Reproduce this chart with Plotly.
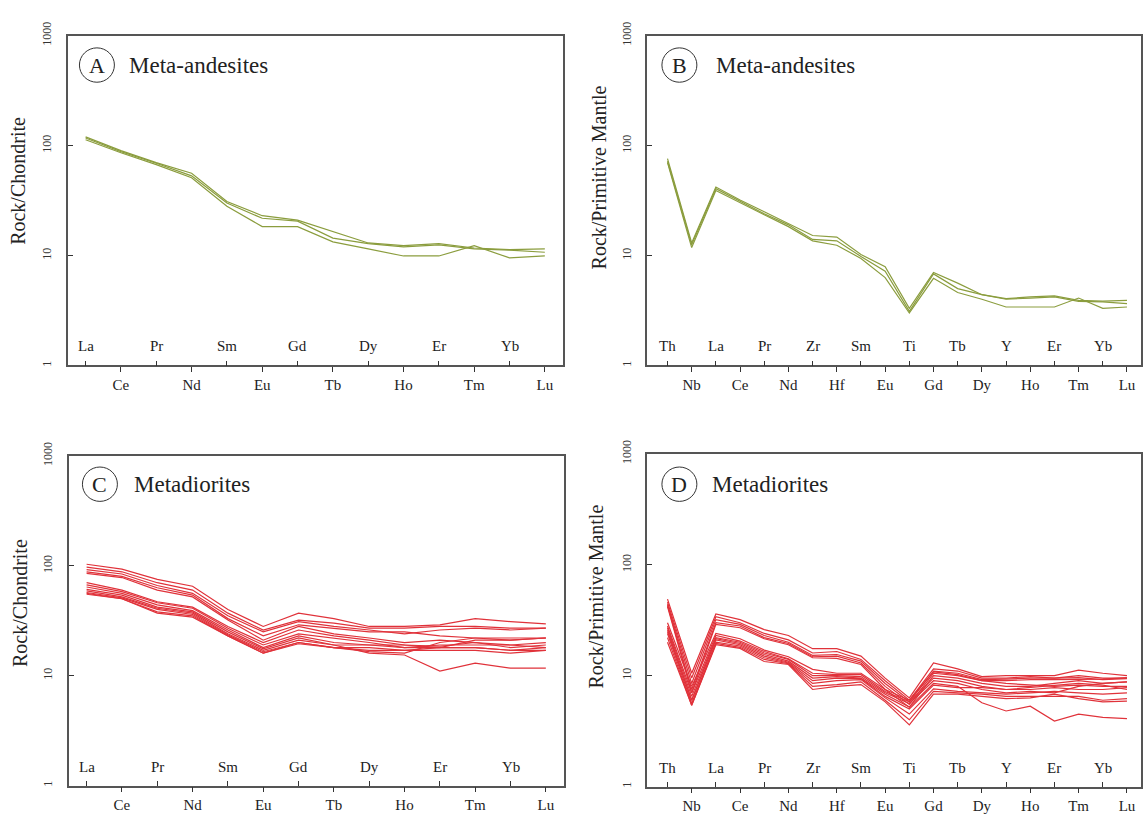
import plotly.graph_objects as go

W, H = 1143, 817

# ---------------- data ----------------
ree_labels = ["La", "Ce", "Pr", "Nd", "Sm", "Eu", "Gd", "Tb", "Dy", "Ho", "Er", "Tm", "Yb", "Lu"]
spider_labels = ["Th", "Nb", "La", "Ce", "Pr", "Nd", "Zr", "Hf", "Sm", "Eu", "Ti", "Gd", "Tb",
                 "Dy", "Y", "Ho", "Er", "Tm", "Yb", "Lu"]

# A: meta-andesites, chondrite-normalised REE
andesite_ree = [
    [120, 90, 70, 56, 31, 23.0, 21.0, 16.5, 13.0, 12.3, 12.8, 11.7, 11.3, 11.5],
    [117, 88, 69, 53, 30, 21.8, 20.5, 14.4, 12.8, 12.0, 12.5, 11.5, 11.2, 10.7],
    [113, 86, 67, 51, 28, 18.3, 18.3, 13.3, 11.5, 9.9, 9.9, 12.3, 9.5, 9.9],
]

# B: meta-andesites, primitive-mantle-normalised
andesite_pm = [
    [76, 13.0, 42, 32, 25, 19.5, 15.2, 14.7, 10.2, 7.9, 3.3, 7.0, 5.6, 4.4, 4.05, 4.2, 4.3, 3.9, 3.85, 3.9],
    [72, 12.5, 40.5, 31, 24, 19.0, 14.0, 13.6, 9.8, 7.2, 3.1, 6.8, 5.0, 4.4, 4.0, 4.1, 4.2, 3.83, 3.78, 3.65],
    [70, 11.8, 39, 30.5, 23.5, 18.3, 13.6, 12.4, 9.4, 6.3, 3.0, 6.2, 4.6, 4.0, 3.4, 3.4, 3.4, 4.1, 3.3, 3.4],
]

# C: metadiorites, chondrite-normalised REE
diorite_ree = [
    [103, 93, 75, 65, 40, 28.0, 37.0, 33.0, 28.0, 28.0, 29.0, 33.0, 31.0, 29.5],
    [97, 88, 70, 60, 37, 26.0, 32.0, 30.0, 27.0, 27.0, 28.0, 28.0, 27.0, 27.0],
    [92, 84, 66, 56, 35, 25.0, 31.0, 28.0, 26.0, 24.0, 26.0, 27.0, 26.0, 27.0],
    [88, 80, 63, 54, 33, 23.0, 29.0, 27.0, 25.0, 25.0, 23.0, 22.0, 21.0, 22.0],
    [85, 78, 60, 52, 32, 21.0, 28.0, 24.0, 22.0, 20.0, 21.0, 20.0, 18.0, 19.0],
    [70, 60, 47, 42, 28, 20.0, 26.0, 23.0, 21.0, 19.0, 18.5, 20.0, 19.0, 18.0],
    [67, 58, 46, 41, 27, 19.0, 24.0, 22.0, 20.0, 18.0, 19.0, 19.0, 19.0, 20.0],
    [64, 56, 44, 39, 26, 18.0, 23.0, 20.0, 19.0, 18.0, 18.0, 21.0, 21.0, 22.0],
    [61, 54, 42, 38, 25, 17.5, 22.0, 19.0, 16.0, 15.4, 11.0, 13.0, 11.7, 11.7],
    [59, 52, 41, 37, 24, 17.0, 21.0, 19.0, 19.0, 19.0, 18.0, 18.0, 17.0, 17.0],
    [57, 51, 40, 36, 23.5, 16.5, 20.0, 18.0, 18.0, 17.0, 18.0, 18.0, 17.0, 18.0],
    [56, 50, 38, 35, 23, 16.0, 20.0, 18.0, 17.0, 17.0, 17.0, 17.0, 16.0, 17.0],
    [55, 50, 37, 34, 23, 16.0, 19.5, 18.0, 16.5, 16.0, 20.0, 22.0, 22.0, 22.0],
]

# D: metadiorites, primitive-mantle-normalised
diorite_pm = [
    [49, 10.5, 36, 32, 26, 23.0, 17.5, 17.5, 15.0, 9.5, 6.3, 13.0, 11.5, 9.8, 10.0, 10.0, 10.0, 11.2, 10.5, 10.0],
    [46, 9.5, 34, 30, 24, 21.0, 16.0, 16.5, 14.0, 9.0, 6.0, 11.5, 11.0, 9.5, 9.5, 9.8, 9.5, 10.0, 9.5, 9.5],
    [44, 8.5, 32, 29, 23, 20.0, 15.2, 15.5, 13.5, 8.5, 5.8, 11.0, 10.5, 9.2, 9.3, 9.5, 9.5, 9.6, 9.2, 9.4],
    [43, 7.5, 30, 28, 22, 19.5, 14.8, 15.0, 13.0, 8.0, 5.5, 10.5, 10.0, 9.0, 9.0, 9.2, 9.2, 9.3, 9.3, 9.6],
    [42, 7.0, 29, 27, 21.5, 19.0, 14.5, 14.3, 12.6, 7.5, 5.2, 10.0, 9.5, 8.5, 8.0, 8.0, 8.5, 9.0, 8.5, 8.8],
    [30, 8.0, 24, 21.5, 17, 14.8, 11.4, 10.5, 10.5, 7.5, 6.0, 10.8, 10.2, 9.0, 8.5, 8.2, 8.0, 8.2, 8.0, 8.0],
    [28, 7.0, 23, 20.5, 16.5, 14.2, 10.5, 10.2, 10.2, 7.2, 5.8, 9.5, 9.0, 8.0, 7.5, 7.5, 7.8, 7.5, 7.5, 7.8],
    [27, 6.5, 22, 20, 16, 14.0, 10.0, 10.0, 9.8, 7.0, 5.6, 9.0, 8.5, 7.5, 7.0, 7.2, 7.0, 8.0, 8.5, 8.8],
    [26, 6.0, 21.5, 19.5, 15.5, 13.5, 9.5, 9.8, 9.5, 6.8, 5.2, 8.5, 8.0, 5.7, 4.8, 5.3, 3.9, 4.5, 4.2, 4.1],
    [25, 6.0, 21, 19, 15, 13.2, 9.0, 9.5, 9.4, 6.5, 5.0, 8.2, 7.8, 7.8, 7.5, 7.8, 8.2, 8.5, 8.2, 7.5],
    [24, 5.6, 20, 18.5, 14.5, 13.0, 8.5, 9.0, 9.2, 6.3, 4.5, 7.6, 7.2, 7.0, 6.8, 7.0, 7.2, 7.0, 6.8, 7.0],
    [22, 5.4, 19.5, 18, 14, 12.8, 8.0, 8.3, 8.8, 6.0, 4.0, 7.2, 7.0, 6.8, 6.5, 6.5, 6.5, 6.5, 6.0, 6.2],
    [20, 5.4, 19, 17.6, 13.4, 12.6, 7.5, 8.0, 8.3, 5.8, 3.6, 6.8, 6.8, 6.5, 6.2, 6.3, 6.8, 6.2, 5.8, 5.9],
]

y_tick_vals = [1, 10, 100, 1000]
y_tick_text = ["1", "10", "100", "1000"]

GREEN = "#8b9d3e"
RED = "#e0323a"
FONT = "Liberation Serif"
FRAME = "#555555"

# ---------------- panel geometry (pixels) ----------------
panels = [
    dict(name="A", data=andesite_ree, labels=ree_labels, color=GREEN,
         box=(68, 563, 22, 358), xr=(0.5, 14.5), title="Meta-andesites",
         ytitle="Rock/Chondrite", ytpos=(18, 170), circ=(97, 52), txt=(127, 52)),
    dict(name="B", data=andesite_pm, labels=spider_labels, color=GREEN,
         box=(648, 1142, 22, 358), xr=(0.17, 20.58), title="Meta-andesites",
         ytitle="Rock/Primitive Mantle", ytpos=(599, 166), circ=(680, 52), txt=(715, 52)),
    dict(name="C", data=diorite_ree, labels=ree_labels, color=RED,
         box=(69, 564, 450, 786), xr=(0.5, 14.5), title="Metadiorites",
         ytitle="Rock/Chondrite", ytpos=(20, 600), circ=(100, 479), txt=(132, 479)),
    dict(name="D", data=diorite_pm, labels=spider_labels, color=RED,
         box=(648, 1142, 448, 787), xr=(0.17, 20.58), title="Metadiorites",
         ytitle="Rock/Primitive Mantle", ytpos=(597, 593), circ=(680, 479), txt=(711, 479)),
]


def px(x):
    return x / W


def py(y):
    return 1 - y / H


fig = go.Figure()
annotations = []
shapes = []
layout = {}

for i, p in enumerate(panels):
    k = "" if i == 0 else str(i + 1)
    xa, ya = "x" + k, "y" + k
    labels = p["labels"]
    pos = list(range(1, len(labels) + 1))
    for row in p["data"]:
        fig.add_trace(go.Scatter(x=pos, y=row, mode="lines", xaxis=xa, yaxis=ya,
                                 line=dict(color=p["color"], width=1.2),
                                 showlegend=False, hoverinfo="skip"))
    l, r, t, b = p["box"]
    even_pos = pos[1::2]
    even_lab = labels[1::2]
    odd_pos = pos[0::2]
    odd_lab = labels[0::2]
    layout["xaxis" + k] = dict(
        domain=[px(l), px(r)], range=list(p["xr"]), anchor=ya,
        showline=True, mirror=True, linecolor=FRAME, linewidth=1.5,
        showgrid=False, zeroline=False,
        tickmode="array", tickvals=even_pos, ticktext=even_lab,
        ticks="outside", ticklen=5, tickwidth=1, tickcolor="#333",
        ticklabelstandoff=0,
        tickfont=dict(family=FONT, size=15, color="#222"),
        minor=dict(tickmode="array", tickvals=odd_pos, ticks="inside",
                   ticklen=5, tickwidth=1, tickcolor="#333", showgrid=False),
    )
    layout["yaxis" + k] = dict(
        domain=[py(b), py(t)], type="log", range=[0, 3], anchor=xa,
        showline=True, mirror=True, linecolor=FRAME, linewidth=1.5,
        showgrid=False, zeroline=False,
        tickmode="array", tickvals=y_tick_vals, ticktext=y_tick_text,
        ticks="inside", ticklen=5, tickwidth=1, tickcolor="#333",
        tickangle=-90, ticklabelstandoff=10,
        tickfont=dict(family=FONT, size=12, color="#333"),
    )
    # inside (odd) element labels
    for xv, lab in zip(odd_pos, odd_lab):
        annotations.append(dict(x=xv, y=0, xref=xa, yref=ya + " domain", text=lab,
                                showarrow=False, yanchor="middle", yshift=19,
                                font=dict(family=FONT, size=15, color="#222")))
    # y title
    annotations.append(dict(x=px(p["ytpos"][0]), y=py(p["ytpos"][1]), xref="paper", yref="paper",
                            text=p["ytitle"], textangle=-90, showarrow=False,
                            xanchor="center", yanchor="middle",
                            font=dict(family=FONT, size=20, color="#222")))
    # panel letter in circle
    cx, cy = p["circ"]
    rr = 17.5
    shapes.append(dict(type="circle", xref="paper", yref="paper",
                       x0=px(cx - rr), x1=px(cx + rr), y0=py(cy + rr), y1=py(cy - rr),
                       line=dict(color="#333", width=1)))
    annotations.append(dict(x=px(cx), y=py(cy), xref="paper", yref="paper", text=p["name"],
                            showarrow=False, xanchor="center", yanchor="middle",
                            font=dict(family=FONT, size=22, color="#222")))
    annotations.append(dict(x=px(p["txt"][0]), y=py(p["txt"][1]), xref="paper", yref="paper",
                            text=p["title"], showarrow=False, xanchor="left", yanchor="middle",
                            font=dict(family=FONT, size=23, color="#222")))

fig.update_layout(
    width=W, height=H, margin=dict(l=0, r=0, t=0, b=0),
    paper_bgcolor="white", plot_bgcolor="white",
    annotations=annotations, shapes=shapes, **layout,
)

fig.write_html("out.html")
